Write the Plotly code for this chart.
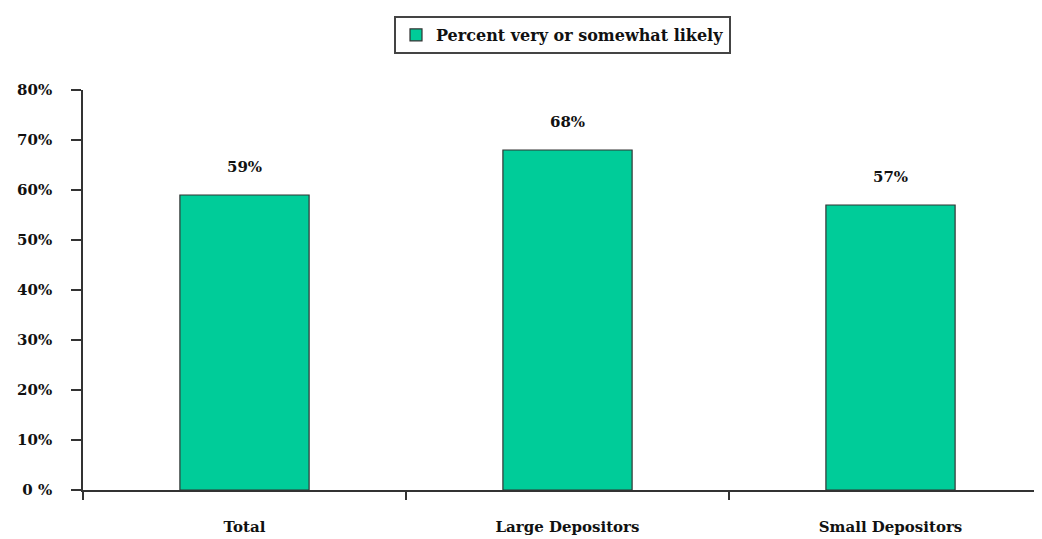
import plotly.graph_objects as go

categories = ["Total", "Large Depositors", "Small Depositors"]
values = [59, 68, 57]
series_name = "Percent very or somewhat likely"
y_ticks = [0, 10, 20, 30, 40, 50, 60, 70, 80]
y_tick_labels = ["0 %", "10%", "20%", "30%", "40%", "50%", "60%", "70%", "80%"]

font_family = "DejaVu Serif, Liberation Serif, serif"
txt = dict(family=font_family, size=15, color="#111111", weight="bold")

fig = go.Figure()
fig.add_trace(go.Bar(
    x=categories,
    y=values,
    name=series_name,
    width=0.4,
    marker=dict(color="#00CC99", line=dict(color="#333333", width=1.2)),
    showlegend=True,
))

for c, v in zip(categories, values):
    fig.add_annotation(
        x=c, y=v, text=f"{v}%", showarrow=False,
        yanchor="bottom", yshift=17, font=txt,
    )

fig.update_layout(
    width=1034, height=531,
    margin=dict(l=75, r=0, t=82, b=49, autoexpand=False),
    paper_bgcolor="white", plot_bgcolor="white",
    font=dict(family=font_family, size=15, color="#111111"),
    showlegend=True,
    legend=dict(
        orientation="h", x=0.5, xanchor="center",
        yref="container", y=0.985, yanchor="top",
        bordercolor="#444444", borderwidth=2,
        font=dict(family=font_family, size=16, color="#111111", weight="bold"),
        itemwidth=30,
    ),
)

fig.update_xaxes(
    range=[-0.5, 2.469],
    showline=True, linecolor="#333333", linewidth=1.5,
    ticks="outside", tickson="boundaries", ticklen=8, tickcolor="#333333", tickwidth=1.5,
    tickfont=txt,
    ticklabelstandoff=22, automargin=False,
    showgrid=False, zeroline=False,
)
fig.update_yaxes(
    range=[0, 80],
    tickvals=y_ticks, ticktext=y_tick_labels,
    showline=True, linecolor="#333333", linewidth=1.5,
    ticks="outside", ticklen=10, tickcolor="#333333", tickwidth=1.5,
    tickfont=txt,
    ticklabelstandoff=16, automargin=False,
    showgrid=False, zeroline=False,
)

fig.write_html("out.html")
